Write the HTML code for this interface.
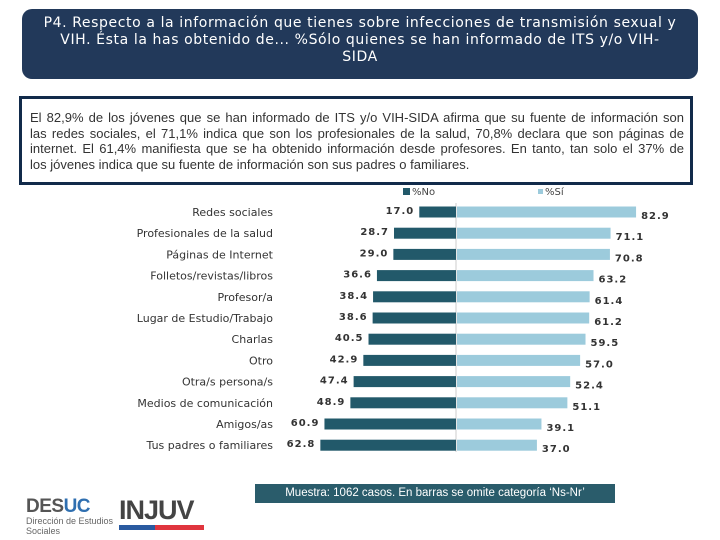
<!DOCTYPE html>
<html><head><meta charset="utf-8"><style>
body{margin:0;width:720px;height:540px;background:#fff;font-family:"DejaVu Sans","Liberation Sans",sans-serif;position:relative;overflow:hidden}
#hdr{position:absolute;left:22px;top:9px;width:676px;height:70px;background:#22395a;border-radius:10px;color:#fff;font-size:14px;letter-spacing:0.6px;line-height:17px;text-align:center;box-sizing:border-box;padding:6px 0 0;white-space:nowrap}
#box{position:absolute;left:19px;top:96px;width:674px;height:89px;border:3px solid #112a4a;box-sizing:border-box;font-family:"Liberation Sans",sans-serif;font-size:13px;line-height:15.5px;color:#333;padding:11px 6px 0 8px}
#box div{text-align:justify;text-align-last:justify;white-space:nowrap}
#box div.last{text-align-last:left}
svg{position:absolute;left:0;top:0}
#note{position:absolute;left:255px;top:484px;width:360px;height:19px;background:#2a5c6b;color:#fff;font-family:"Liberation Sans",sans-serif;font-size:11.5px;text-align:center;line-height:19px}
</style></head><body>
<div id="hdr">P4. Respecto a la información que tienes sobre infecciones de transmisión sexual y<br>VIH. Ésta la has obtenido de... %Sólo quienes se han informado de ITS y/o VIH-<br>SIDA</div>
<div id="box"><div>El 82,9% de los jóvenes que se han informado de ITS y/o VIH-SIDA afirma que su fuente de información son</div><div>las redes sociales, el 71,1% indica que son los profesionales de la salud, 70,8% declara que son páginas de</div><div>internet. El 61,4% manifiesta que se ha obtenido información desde profesores. En tanto, tan solo el 37% de</div><div class="last">los jóvenes indica que su fuente de información son sus padres o familiares.</div></div>
<svg id="chart" width="720" height="540"></svg>
<div id="note">Muestra: 1062 casos. En barras se omite categoría ‘Ns-Nr’</div>
<div style="position:absolute;left:26px;top:496px;font:bold 19px 'Liberation Sans',sans-serif;color:#555;letter-spacing:-0.5px">DES<span style="color:#2f6fb0">UC</span></div>
<div style="position:absolute;left:26px;top:516px;font:9px 'Liberation Sans',sans-serif;color:#666;line-height:10px">Dirección de Estudios<br>Sociales</div>
<div style="position:absolute;left:119px;top:495px;font:bold 27px 'Liberation Sans',sans-serif;color:#444;letter-spacing:-1px">INJUV</div>
<div style="position:absolute;left:119px;top:525px;width:36px;height:5px;background:#2a5aa0"></div>
<div style="position:absolute;left:155px;top:525px;width:49px;height:5px;background:#e0353e"></div>
<script>
const categories=["Redes sociales","Profesionales de la salud","Páginas de Internet","Folletos/revistas/libros","Profesor/a","Lugar de Estudio/Trabajo","Charlas","Otro","Otra/s persona/s","Medios de comunicación","Amigos/as","Tus padres o familiares"];
const noValues=[17.0,28.7,29.0,36.6,38.4,38.6,40.5,42.9,47.4,48.9,60.9,62.8];
const siValues=[82.9,71.1,70.8,63.2,61.4,61.2,59.5,57.0,52.4,51.1,39.1,37.0];
const svg=document.getElementById('chart');const NS='http://www.w3.org/2000/svg';
const cx=456,k=2.16,y0=212,step=21.2,bh=11;
const x=v=>v*k; const y=i=>y0+i*step;
function mk(t,a,p){const e=document.createElementNS(NS,t);for(const q in a)e.setAttribute(q,a[q]);(p||svg).appendChild(e);return e;}
let l1=mk('rect',{x:403,y:188,width:7,height:7,fill:'#22596a'});


let t1=mk('text',{x:412,y:195,'font-size':10,fill:'#444','font-family':'DejaVu Sans,sans-serif'});t1.textContent='%No';


let l2=mk('rect',{x:538,y:189,width:5,height:5,fill:'#9ccbdc'});


let t2=mk('text',{x:545,y:195,'font-size':10,fill:'#444','font-family':'DejaVu Sans,sans-serif'});t2.textContent='%Sí';


mk('line',{x1:cx,x2:cx,y1:203,y2:452,stroke:'#ccc','stroke-width':1});
categories.forEach((c,i)=>{
 const yc=y(i);
 const lab=mk('text',{x:273,y:yc+4,'text-anchor':'end','font-size':11,fill:'#333','font-family':'DejaVu Sans,sans-serif'});lab.textContent=c;
 
 
 const bn=mk('rect',{x:cx-x(noValues[i]),y:yc-bh/2,width:x(noValues[i]),height:bh,fill:'#22596a'});
 
 
 const bs=mk('rect',{x:cx+1,y:yc-bh/2,width:x(siValues[i]),height:bh,fill:'#9ccbdc'});
 
 
 const vn=mk('text',{x:cx-x(noValues[i])-5,y:yc+2,'text-anchor':'end','font-size':10,'font-weight':'bold',fill:'#333','letter-spacing':1,'font-family':'DejaVu Sans,sans-serif'});vn.textContent=noValues[i].toFixed(1);
 
 
 const vs=mk('text',{x:cx+x(siValues[i])+6,y:yc+7,'font-size':10,'font-weight':'bold',fill:'#333','letter-spacing':1,'font-family':'DejaVu Sans,sans-serif'});vs.textContent=siValues[i].toFixed(1);
 
 
});
</script>
</body></html>
